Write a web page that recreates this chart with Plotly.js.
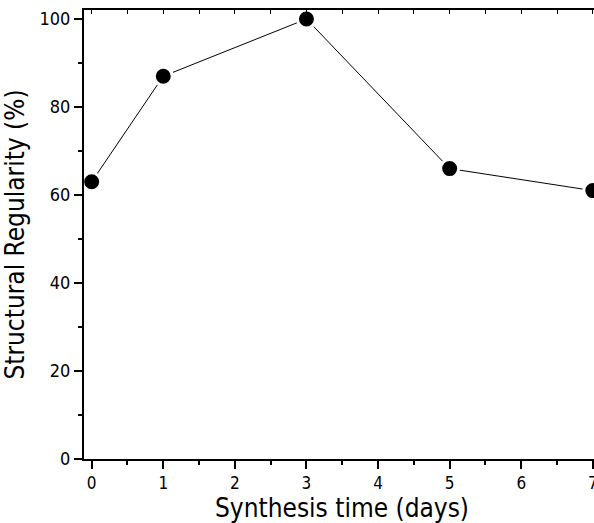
<!DOCTYPE html>
<html>
<head>
<meta charset="utf-8">
<script src="https://cdn.plot.ly/plotly-3.0.1.min.js"></script>
<style>
html,body{margin:0;padding:0;overflow:hidden;background:#fff;}
#chart{width:620px;height:523px;}
</style>
</head>
<body>
<div id="chart"></div>
<script>
const days = [0, 1, 3, 5, 7];
const regularity = [63, 87, 100, 66, 61];
const xTitle = "Synthesis time (days)";
const yTitle = "Structural Regularity (%)";

const FONT = "'DejaVu Sans Condensed', 'Noto Sans', sans-serif";

const trace = {
  x: days,
  y: regularity,
  type: 'scatter',
  mode: 'lines+markers',
  line: {color: '#000', width: 1},
  marker: {color: '#000', size: 18, line: {color: '#fff', width: 3}},
  cliponaxis: false,
  showlegend: false,
  hoverinfo: 'skip'
};
const dummy = {
  x: days, y: regularity, xaxis: 'x2', yaxis: 'y',
  type: 'scatter', mode: 'markers', marker: {opacity: 0}, showlegend: false, hoverinfo: 'skip'
};

const layout = {
  width: 620,
  height: 523,
  margin: {l: 84, r: 20, t: 10, b: 64},
  paper_bgcolor: '#fff',
  plot_bgcolor: '#fff',
  font: {family: FONT, color: '#000', size: 17},
  xaxis: {
    range: [-0.107, 7.1],
    dtick: 1,
    tick0: 0,
    ticks: 'outside',
    ticklen: 8,
    tickwidth: 2,
    tickcolor: '#000',
    showline: true,
    linewidth: 2,
    linecolor: '#000',
    showgrid: false,
    zeroline: false,
    tickfont: {family: FONT, size: 17},
    minor: {dtick: 0.5, ticks: 'outside', ticklen: 4, tickwidth: 2, tickcolor: '#000', showgrid: false},
    title: {text: xTitle, font: {family: FONT, size: 26}, standoff: 6}
  },
  xaxis2: {
    overlaying: 'x',
    side: 'top',
    anchor: 'y',
    range: [-0.107, 7.1],
    dtick: 0.5,
    tick0: 0,
    ticks: 'inside',
    ticklen: 4,
    tickwidth: 1,
    tickcolor: '#000',
    showticklabels: false,
    showline: true,
    linewidth: 2,
    linecolor: '#000',
    showgrid: false,
    zeroline: false
  },
  yaxis: {
    range: [0, 102.05],
    dtick: 20,
    tick0: 0,
    ticks: 'outside',
    ticklen: 8,
    tickwidth: 2,
    tickcolor: '#000',
    showline: true,
    linewidth: 2,
    linecolor: '#000',
    showgrid: false,
    zeroline: false,
    tickfont: {family: FONT, size: 18},
    minor: {dtick: 10, ticks: 'outside', ticklen: 4, tickwidth: 2, tickcolor: '#000', showgrid: false},
    title: {text: yTitle, font: {family: FONT, size: 26}, standoff: 8}
  }
};

Plotly.newPlot('chart', [dummy, trace], layout, {displayModeBar: false, staticPlot: true});
</script>
</body>
</html>
